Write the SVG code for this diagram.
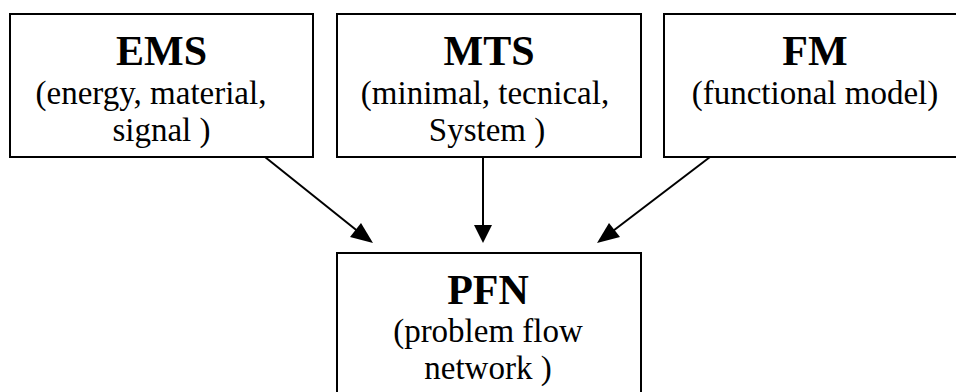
<svg xmlns="http://www.w3.org/2000/svg" width="956" height="392" viewBox="0 0 956 392">
<defs>
<style>
.box{fill:#fff;stroke:#000;stroke-width:2}
.t{font-weight:bold;font-size:42px;text-anchor:middle;fill:#000}
.s{font-size:33px;text-anchor:middle;fill:#000}
.ln{stroke:#000;stroke-width:2;fill:none}
.ah{fill:#000}
</style>
</defs>
<rect width="956" height="392" fill="#fff"/>
<g font-family="Liberation Serif, DejaVu Serif, serif">
<g id="EMS">
<rect class="box" x="10" y="14" width="303" height="143"/>
<text class="t" x="161.5" y="65">EMS</text>
<text class="s" x="151" y="104">(energy, material,</text>
<text class="s" x="161.5" y="141">signal )</text>
</g>
<g id="MTS">
<rect class="box" x="337" y="14" width="304" height="143"/>
<text class="t" x="489" y="65">MTS</text>
<text class="s" x="485" y="104">(minimal, tecnical,</text>
<text class="s" x="487" y="141">System )</text>
</g>
<g id="FM">
<rect class="box" x="664" y="14" width="304" height="143"/>
<text class="t" x="815" y="65">FM</text>
<text class="s" x="815" y="104">(functional model)</text>
</g>
<g id="PFN">
<rect class="box" x="337" y="253" width="304" height="143"/>
<text class="t" x="488" y="304">PFN</text>
<text class="s" x="488" y="342">(problem flow</text>
<text class="s" x="488" y="379">network )</text>
</g>
</g>
<g id="connectors">
<line class="ln" x1="265" y1="157" x2="360" y2="233"/>
<polygon class="ah" points="373,243 350,237 361,223"/>
<line class="ln" x1="483" y1="157" x2="483" y2="228"/>
<polygon class="ah" points="483,243 474,225 492,225"/>
<line class="ln" x1="710" y1="157" x2="609" y2="234"/>
<polygon class="ah" points="597,243 609,223 620,237"/>
</g>
</svg>
